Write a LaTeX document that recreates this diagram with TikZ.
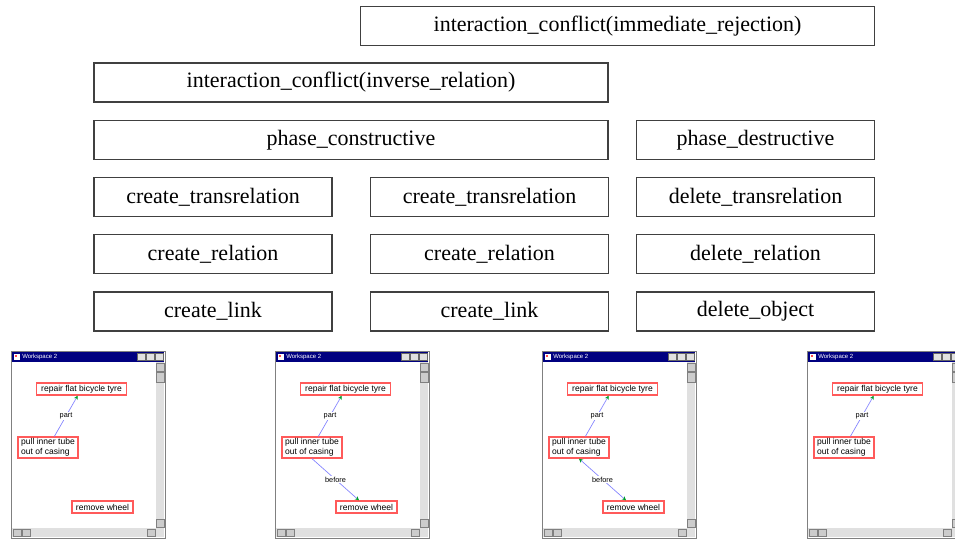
\documentclass[tikz,border=0pt]{standalone}
\usepackage{fontspec}
\setmainfont{Liberation Serif}
\newfontfamily\winfont{Liberation Sans}
\usetikzlibrary{arrows.meta}

\definecolor{titlenavy}{RGB}{0,0,128}
\definecolor{itemred}{RGB}{255,90,90}
\definecolor{linkblue}{RGB}{130,130,255}
\definecolor{tipgreen}{RGB}{0,160,40}

\tikzset{
    box/.style={rectangle, draw=black!75, line width=1.1pt, fill=white, minimum height=29pt,
        inner sep=0pt, font=\fontsize{16.5}{20}\selectfont},
    wide/.style={minimum width=385.5pt},
    narrow/.style={minimum width=178.5pt},
    item/.style={rectangle, draw=itemred, line width=1pt, fill=white, inner sep=0pt,
        align=left, font=\winfont\fontsize{6.4}{7.4}\selectfont},
    lbl/.style={fill=white, inner sep=0.5pt, font=\winfont\fontsize{5.5}{6}\selectfont},
    lnk/.style={draw=linkblue, line width=0.5pt, -{Stealth[color=tipgreen, length=3pt, width=3pt]}},
    both/.style={draw=linkblue, line width=0.5pt,
        {Stealth[color=tipgreen, length=3pt, width=3pt]}-{Stealth[color=tipgreen, length=3pt, width=3pt]}}
}

\begin{document}
\begin{tikzpicture}[x=0.75pt, y=-0.75pt]
    \clip (0,0) rectangle (955,539);
    \fill[white] (0,0) rectangle (955,539);

    % operation boxes
    \node[box, wide] (rejection) at (617.5, 26) {interaction\_conflict(immediate\_rejection)};
    \node[box, wide] (inverse) at (351, 82.5) {interaction\_conflict(inverse\_relation)};
    \node[box, wide] (constructive) at (351, 140) {phase\_constructive};
    \node[box, narrow] (destructive) at (755.5, 140) {phase\_destructive};

    \node[box, narrow] (transA) at (213, 197) {create\_transrelation};
    \node[box, narrow] (transB) at (489.5, 197) {create\_transrelation};
    \node[box, narrow] (transC) at (755.5, 197) {delete\_transrelation};

    \node[box, narrow] (relA) at (213, 254) {create\_relation};
    \node[box, narrow] (relB) at (489.5, 254) {create\_relation};
    \node[box, narrow] (relC) at (755.5, 254) {delete\_relation};

    \node[box, narrow] (linkA) at (213, 311.5) {create\_link};
    \node[box, narrow] (linkB) at (489.5, 311.5) {create\_link};
    \node[box, narrow] (objC) at (755.5, 311.5) {delete\_object};

    % workspace windows
    \foreach \wx/\wn in {11/a, 275/b, 542/c, 807/d} {
        \draw[gray, fill=white, line width=0.6pt] (\wx,351) rectangle ({\wx+154},538);
        \fill[titlenavy] ({\wx+1},352) rectangle ({\wx+153},362);
        \fill[white] ({\wx+3},354) rectangle ({\wx+9},360);
        \fill[red!70] ({\wx+4},355) rectangle ({\wx+6},357);
        \node[anchor=west, text=white, inner sep=0pt, font=\winfont\fontsize{4.5}{5}\selectfont]
            (title\wn) at ({\wx+11},357) {Workspace 2};
        \foreach \b in {126,135,144} {
            \draw[black!60, fill=black!12, line width=0.3pt] ({\wx+\b},353.5) rectangle ({\wx+\b+8},360.5);
        }
        % scrollbars
        \fill[black!12] ({\wx+145},362) rectangle ({\wx+153},528);
        \fill[black!12] ({\wx+1},528) rectangle ({\wx+153},537);
        \draw[black!50, fill=black!20, line width=0.3pt] ({\wx+145},363) rectangle ({\wx+153},371);
        \draw[black!50, fill=black!20, line width=0.3pt] ({\wx+145},372) rectangle ({\wx+153},382);
        \draw[black!50, fill=black!20, line width=0.3pt] ({\wx+145},519) rectangle ({\wx+153},527);
        \draw[black!50, fill=black!20, line width=0.3pt] ({\wx+2},529) rectangle ({\wx+10},536);
        \draw[black!50, fill=black!20, line width=0.3pt] ({\wx+11},529) rectangle ({\wx+19},536);
        \draw[black!50, fill=black!20, line width=0.3pt] ({\wx+136},529) rectangle ({\wx+144},536);

        \node[item, minimum width=67.5pt, minimum height=9pt] (repair\wn) at ({\wx+70.5},389)
            {repair flat bicycle tyre};
        \node[item, minimum width=45pt, minimum height=15.75pt] (pull\wn) at ({\wx+37},447.5)
            {pull inner tube\\out of casing};
        \draw[lnk] (pull\wn) -- node[lbl] (part\wn) {part} (repair\wn);
    }

    \node[item, minimum width=45.75pt, minimum height=9pt] (removea) at (102.5,507) {remove wheel};
    \node[item, minimum width=45.75pt, minimum height=9pt] (removeb) at (366.5,507) {remove wheel};
    \node[item, minimum width=45.75pt, minimum height=9pt] (removec) at (633.5,507) {remove wheel};

    \draw[lnk] (pullb.south) -- node[lbl] (beforeb) {before} (removeb);
    \draw[both] (pullc.south) -- node[lbl] (beforec) {before} (removec);
\end{tikzpicture}
\end{document}
